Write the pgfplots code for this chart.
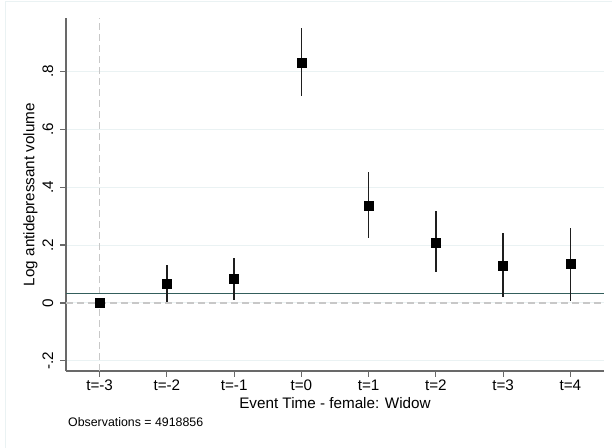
\documentclass[border=0pt]{standalone}
\usepackage{fontspec}
\setmainfont{Liberation Sans}
\usepackage{pgfplots}
\pgfplotsset{compat=1.18}
\usepackage{pgfplotstable}
\definecolor{gridc}{RGB}{234,242,243}
\definecolor{axc}{RGB}{105,105,105}
\definecolor{refc}{RGB}{52,94,92}
\definecolor{dashc}{RGB}{200,200,200}
\definecolor{framec}{RGB}{234,242,243}
\definecolor{cic}{RGB}{30,30,30}

\pgfplotstableread{
x y lo hi
0 0 0 0
1 0.067 0.002 0.131
2 0.082 0.010 0.154
3 0.831 0.713 0.950
4 0.337 0.2245 0.451
5 0.208 0.107 0.317
6 0.130 0.022 0.241
7 0.134 0.008 0.258
}\cidata

\begin{document}
\begin{tikzpicture}[x=1bp,y=1bp]
\begin{axis}[
  at={(66bp,77bp)}, anchor=south west,
  scale only axis, width=538bp, height=353bp,
  xmin=-0.5, xmax=7.5, ymin=-0.235, ymax=0.984,
  axis x line*=bottom, axis y line*=left,
  axis line style={axc, line width=1.5bp, -},
  xtick={0,...,7},
  xticklabels={t=-3,t=-2,t=-1,t=0,t=1,t=2,t=3,t=4},
  ytick={-0.2,0,0.2,0.4,0.6,0.8},
  yticklabels={-.2,0,.2,.4,.6,.8},
  tick align=outside, major tick length=6bp,
  tick style={axc, line width=1.2bp},
  ymajorgrids, grid style={gridc, line width=1bp},
  /pgf/number format/assume math mode=true,
  xticklabel style={font=\fontsize{15.3}{18}\selectfont, anchor=base, inner sep=0pt},
  xticklabel shift=14bp,
  yticklabel style={font=\fontsize{15.3}{18}\selectfont, rotate=90, anchor=base, inner sep=0pt},
  yticklabel shift=7bp,
  xlabel={Event Time - female: Widow},
  every axis x label/.style={at={([yshift=-37.3bp]axis description cs:0.5,0)}, anchor=base, inner sep=0pt, font=\fontsize{15.3}{18}\selectfont},
  ylabel={Log antidepressant volume},
  every axis y label/.style={at={([xshift=-31.7bp]axis description cs:0,0.5)}, rotate=90, anchor=base, inner sep=0pt, font=\fontsize{15.3}{18}\selectfont},
  clip=true,
]
\addplot[dashc, dash pattern=on 7bp off 4bp, line width=1.2bp] coordinates {(-0.5,0) (7.5,0)};
\addplot[dashc, dash pattern=on 7bp off 4bp, line width=1.2bp] coordinates {(0,-0.235) (0,0.984)};
\addplot[refc, line width=1.3bp] coordinates {(-0.5,0.032) (7.5,0.032)};
\addplot[only marks, mark=square*, mark size=4.5bp, black,
  error bars/.cd, y dir=both, y explicit, error mark=none,
  error bar style={cic, line width=1.3bp}]
  table[x=x, y=y, y error plus expr=\thisrow{hi}-\thisrow{y}, y error minus expr=\thisrow{y}-\thisrow{lo}] {\cidata};
\end{axis}
\draw[framec, line width=1bp] (5.5,0) -- (5.5,446) -- (612,446);
\node[anchor=base west, inner sep=0pt, font=\fontsize{12.4}{15}\selectfont] at (68,21) {Observations = 4918856};
\pgfresetboundingbox
\useasboundingbox (0,0) rectangle (612,448);
\end{tikzpicture}
\end{document}
